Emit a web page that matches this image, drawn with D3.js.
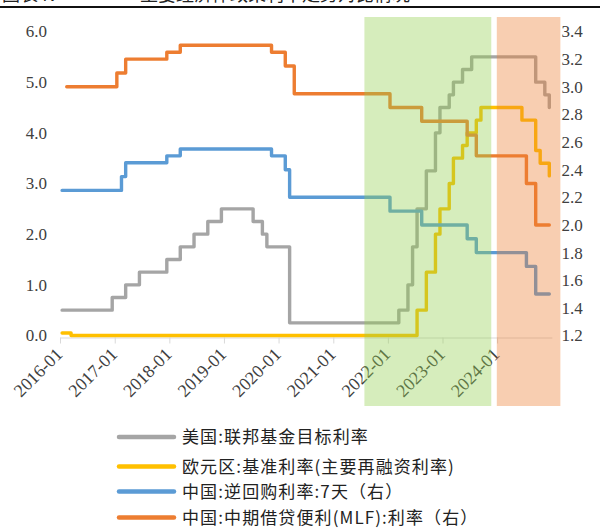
<!DOCTYPE html>
<html>
<head>
<meta charset="utf-8">
<script src="https://cdn.jsdelivr.net/npm/d3@7"></script>
<style>
  body { margin: 0; background: #fff; }
  svg { display: block; }
</style>
</head>
<body>
<svg id="chart" width="600" height="529"></svg>
<script>
// policy rate changes: effective date + new level (%)
const fedDates = ['2015-12-17', '2016-12-15', '2017-03-16', '2017-06-15', '2017-12-14', '2018-03-22', '2018-06-14',
  '2018-09-27', '2018-12-20', '2019-07-31', '2019-09-18', '2019-10-30', '2020-03-03', '2020-03-15', '2022-03-16',
  '2022-05-04', '2022-06-15', '2022-07-27', '2022-09-21', '2022-11-02', '2022-12-14', '2023-02-01', '2023-03-22',
  '2023-05-03', '2023-07-26', '2024-09-18', '2024-11-07', '2024-12-18'];
const fedRates = [0.5, 0.75, 1.0, 1.25, 1.5, 1.75, 2.0, 2.25, 2.5, 2.25, 2.0, 1.75, 1.25, 0.25, 0.5,
  1.0, 1.75, 2.5, 3.25, 4.0, 4.5, 4.75, 5.0, 5.25, 5.5, 5.0, 4.75, 4.5];

const ecbDates = ['2015-12-09', '2016-03-16', '2022-07-27', '2022-09-14', '2022-11-02', '2022-12-21', '2023-02-08',
  '2023-03-22', '2023-05-10', '2023-06-21', '2023-08-02', '2023-09-20', '2024-06-12', '2024-09-18', '2024-10-23', '2024-12-18'];
const ecbRates = [0.05, 0.0, 0.5, 1.25, 2.0, 2.5, 3.0, 3.5, 3.75, 4.0, 4.25, 4.5, 4.25, 3.65, 3.4, 3.15];

const rrDates = ['2015-12-01', '2017-02-03', '2017-03-16', '2017-12-14', '2018-03-22', '2019-11-18', '2020-02-03',
  '2020-03-30', '2022-01-17', '2022-08-15', '2023-06-13', '2023-08-15', '2024-07-22', '2024-09-27'];
const rrRates = [2.25, 2.35, 2.45, 2.5, 2.55, 2.5, 2.4, 2.2, 2.1, 2.0, 1.9, 1.8, 1.7, 1.5];

const mlfDates = ['2016-02-01', '2017-01-24', '2017-03-16', '2017-12-14', '2018-03-22', '2019-11-05', '2020-02-17',
  '2020-04-15', '2022-01-17', '2022-08-15', '2023-06-15', '2023-08-15', '2024-07-25', '2024-09-25'];
const mlfRates = [3.0, 3.1, 3.2, 3.25, 3.3, 3.25, 3.15, 2.95, 2.85, 2.75, 2.65, 2.5, 2.3, 2.0];

const seriesNames = [
  '美国:联邦基金目标利率',
  '欧元区:基准利率(主要再融资利率)',
  '中国:逆回购利率:7天（右）',
  '中国:中期借贷便利(MLF):利率（右）'
];

const xTickLabels = ['2016-01', '2017-01', '2018-01', '2019-01', '2020-01', '2021-01', '2022-01', '2023-01', '2024-01'];
const leftTicks = [0, 1, 2, 3, 4, 5, 6];
const rightTicks = [1.2, 1.4, 1.6, 1.8, 2.0, 2.2, 2.4, 2.6, 2.8, 3.0, 3.2, 3.4];

// shaded periods
const shadeStart = ['2021-07-28', '2023-12-30'];
const shadeEnd = ['2023-11-23', '2025-02-27'];

const firstMonth = '2016-01';
const lastMonth = '2024-12';

let parseDay = d3.timeParse('%Y-%m-%d'),
    parseMonth = d3.timeParse('%Y-%m');

let svg = d3.select('#chart');

let x = d3.scaleTime()
  .domain([new Date(2016, 0, 1), new Date(2025, 0, 1)])
  .range([60, 551.85]);

let yL = d3.scaleLinear().domain([0, 6]).range([335.5, 31.5]);
let yR = d3.scaleLinear().domain([1.2, 3.4]).range([335.5, 31.5]);

let startM = parseMonth(firstMonth),
    endM = parseMonth(lastMonth);

// monthly category: each month sits at its middle
function midMonth(d) {
  let m = d3.timeMonth.floor(d);
  if (m < startM) m = startM;
  return d3.timeDay.offset(m, 14);
}

function stepPoints(dates, values) {
  let ds = dates.map(parseDay);
  let pts = [[midMonth(ds[0]), values[0]]];
  for (let i = 1; i < ds.length; i++) {
    let m = midMonth(ds[i]);
    pts.push([m, values[i - 1]]);
    pts.push([m, values[i]]);
  }
  pts.push([midMonth(endM), values[values.length - 1]]);
  return pts;
}

let series = [
  { name: seriesNames[0], pts: stepPoints(fedDates, fedRates), y: yL, color: '#A5A5A5' },
  { name: seriesNames[1], pts: stepPoints(ecbDates, ecbRates), y: yL, color: '#FFC000' },
  { name: seriesNames[2], pts: stepPoints(rrDates, rrRates), y: yR, color: '#5B9BD5' },
  { name: seriesNames[3], pts: stepPoints(mlfDates, mlfRates), y: yR, color: '#ED7D31' }
];

// title strip (cut off at top of the crop)
svg.append('text')
  .attr('x', 2).attr('y', 0.5)
  .attr('font-family', 'Noto Sans CJK SC')
  .attr('font-size', 18)
  .attr('fill', '#222')
  .text('图表4：');
svg.append('text')
  .attr('x', 140).attr('y', 0.5)
  .attr('font-family', 'Noto Sans CJK SC')
  .attr('font-size', 18)
  .attr('fill', '#222')
  .text('主要经济体政策利率走势对比情况');
svg.append('line')
  .attr('x1', 0).attr('x2', 600)
  .attr('y1', 7).attr('y2', 7)
  .attr('stroke', '#111')
  .attr('stroke-width', 2);

// x axis
let xAxis = d3.axisBottom(x)
  .tickValues(xTickLabels.map(parseMonth))
  .tickFormat(d3.timeFormat('%Y-%m'))
  .tickSize(6)
  .tickSizeOuter(0);

let $xAxis = svg.append('g')
  .attr('transform', 'translate(0,337.5)')
  .call(xAxis);

$xAxis.select('.domain').attr('stroke', '#D9D9D9');
$xAxis.selectAll('.tick line').attr('stroke', '#D9D9D9');
$xAxis.selectAll('.tick text')
  .attr('x', 0).attr('y', 0).attr('dy', 0)
  .attr('transform', 'translate(3,18) rotate(-45)')
  .attr('text-anchor', 'end')
  .attr('font-family', 'Liberation Serif, serif')
  .attr('font-size', 18)
  .attr('fill', '#404040');

// y axes
let $yL = svg.append('g')
  .attr('transform', 'translate(47,0)')
  .call(d3.axisLeft(yL).tickValues(leftTicks).tickFormat(d3.format('.1f')).tickSize(0).tickPadding(0));
let $yR = svg.append('g')
  .attr('transform', 'translate(561.5,0)')
  .call(d3.axisRight(yR).tickValues(rightTicks).tickFormat(d3.format('.1f')).tickSize(0).tickPadding(0));

[$yL, $yR].forEach(g => {
  g.select('.domain').remove();
  g.selectAll('text')
    .attr('font-family', 'Liberation Serif, serif')
    .attr('font-size', 17)
    .attr('fill', '#404040');
});

// lines
series.forEach(s => {
  let line = d3.line()
    .x(d => x(d[0]))
    .y(d => s.y(d[1]));
  svg.append('path')
    .datum(s.pts)
    .attr('d', line)
    .attr('fill', 'none')
    .attr('stroke', s.color)
    .attr('stroke-width', 3.4)
    .attr('stroke-linejoin', 'round')
    .attr('stroke-linecap', 'round');
});

// shaded periods drawn over the lines
let shadeColors = ['#92D050', '#ED7D31'];
svg.selectAll('.shade')
  .data(shadeStart)
  .enter()
  .append('rect')
  .classed('shade', true)
  .attr('x', d => x(parseDay(d)))
  .attr('width', (d, i) => x(parseDay(shadeEnd[i])) - x(parseDay(d)))
  .attr('y', 17)
  .attr('height', 389)
  .attr('fill', (d, i) => shadeColors[i])
  .attr('opacity', 0.38);

// legend
let legendY = [437, 466.5, 491.5, 517.5];
let $legend = svg.selectAll('.legend')
  .data(series)
  .enter()
  .append('g')
  .classed('legend', true)
  .attr('transform', (d, i) => `translate(0,${legendY[i]})`);

$legend.append('line')
  .attr('x1', 119).attr('x2', 174)
  .attr('stroke', d => d.color)
  .attr('stroke-width', 4.5)
  .attr('stroke-linecap', 'round');

$legend.append('text')
  .attr('x', 182)
  .attr('y', 6)
  .attr('font-family', 'Noto Sans CJK SC')
  .attr('font-size', 17)
  .attr('letter-spacing', 1.1)
  .attr('fill', '#222')
  .text(d => d.name);
</script>
</body>
</html>
